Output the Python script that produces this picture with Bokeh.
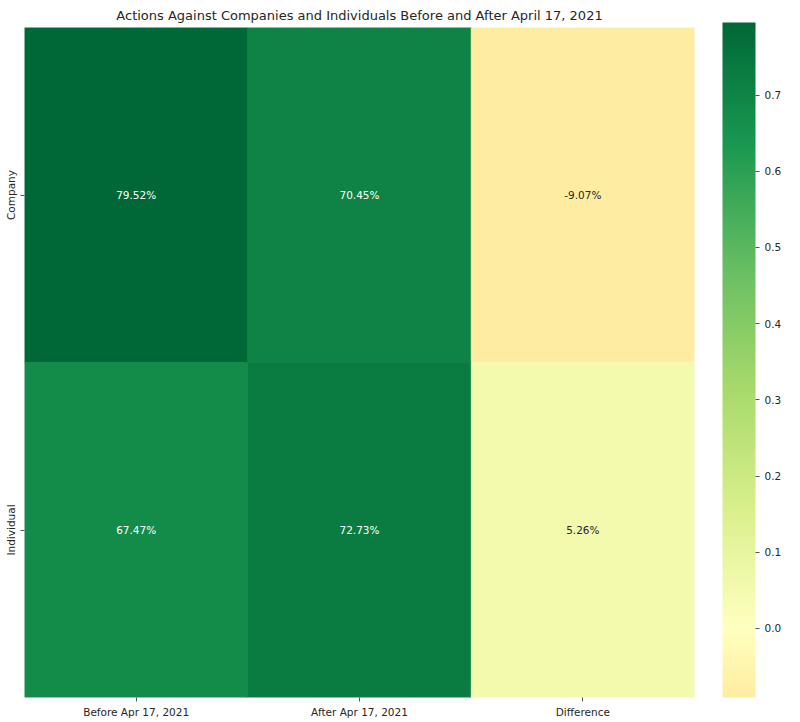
from bokeh.plotting import figure
from bokeh.models import (ColumnDataSource, LinearColorMapper, ColorBar,
                          FixedTicker, FactorRange, PrintfTickFormatter)
from bokeh.transform import transform
from bokeh.core.properties import value
from bokeh.embed import file_html
from bokeh.resources import INLINE

# Data
periods = ["Before Apr 17, 2021", "After Apr 17, 2021", "Difference"]
groups = ["Company", "Individual"]
company_vals = [0.7952, 0.7045, -0.0907]
individual_vals = [0.6747, 0.7273, 0.0526]
colorbar_ticks = [0.0, 0.1, 0.2, 0.3, 0.4, 0.5, 0.6, 0.7]

FONT = "DejaVu Sans"
TEXT_DARK = "#262626"

# Diverging red-yellow-green anchors (ColorBrewer RdYlGn, 11 classes)
RDYLGN = ["#a50026", "#d73027", "#f46d43", "#fdae61", "#fee08b", "#ffffbf",
          "#d9ef8b", "#a6d96a", "#66bd63", "#1a9850", "#006837"]


def hex_to_rgb(h):
    h = h.lstrip("#")
    return tuple(int(h[i:i + 2], 16) for i in (0, 2, 4))


def sample_cmap(t):
    t = min(max(t, 0.0), 1.0)
    pos = t * (len(RDYLGN) - 1)
    i = min(int(pos), len(RDYLGN) - 2)
    f = pos - i
    a, b = hex_to_rgb(RDYLGN[i]), hex_to_rgb(RDYLGN[i + 1])
    c = [round(a[k] + (b[k] - a[k]) * f) for k in range(3)]
    return (c[0], c[1], c[2])


def to_hex(c):
    return "#%02x%02x%02x" % c


all_vals = company_vals + individual_vals
vmin, vmax = min(all_vals), max(all_vals)
center = 0.0
vrange = max(vmax - center, center - vmin)

# Palette centred on zero, covering only the data range
n_colors = 256
palette = []
for k in range(n_colors):
    v = vmin + (vmax - vmin) * k / (n_colors - 1)
    t = 0.5 + (v - center) / (2 * vrange)
    palette.append(to_hex(sample_cmap(t)))

mapper = LinearColorMapper(palette=palette, low=vmin, high=vmax)


def cell_text_color(v):
    t = 0.5 + (v - center) / (2 * vrange)
    r, g, b = [x / 255 for x in sample_cmap(t)]
    def lin(x):
        return x / 12.92 if x <= 0.03928 else ((x + 0.055) / 1.055) ** 2.4
    lum = 0.2126 * lin(r) + 0.7152 * lin(g) + 0.0722 * lin(b)
    return TEXT_DARK if lum > 0.408 else "#ffffff"


xs, ys, vals, labels, tcolors = [], [], [], [], []
for grp, row in zip(groups, [company_vals, individual_vals]):
    for per, v in zip(periods, row):
        xs.append(per)
        ys.append(grp)
        vals.append(v)
        labels.append(f"{v * 100:.2f}%")
        tcolors.append(cell_text_color(v))

source = ColumnDataSource(dict(x=xs, y=ys, v=vals, label=labels, tc=tcolors))

p = figure(
    width=800, height=722,
    x_range=FactorRange(*periods),
    y_range=FactorRange(*reversed(groups)),
    output_backend="svg", toolbar_location=None,
    title="Actions Against Companies and Individuals Before and After April 17, 2021",
    min_border_left=24, min_border_right=106, min_border_top=22, min_border_bottom=25,
)

p.rect(x="x", y="y", width=1, height=1, source=source,
       fill_color=transform("v", mapper), line_color=transform("v", mapper),
       line_width=0.6)
p.text(x="x", y="y", text="label", source=source, text_color="tc",
       text_align="center", text_baseline="middle",
       text_font=value(FONT), text_font_size="10.5px")

p.title.align = "center"
p.title.text_font = FONT
p.title.text_font_style = "normal"
p.title.text_font_size = "13px"
p.title.text_color = TEXT_DARK

p.outline_line_color = None
p.grid.visible = False
p.background_fill_color = "white"
p.border_fill_color = "white"

for ax in (p.xaxis, p.yaxis):
    ax.axis_line_color = None
    ax.major_tick_line_color = "#555555"
    ax.major_tick_out = 4
    ax.major_tick_in = 0
    ax.minor_tick_line_color = None
    ax.major_label_text_font = FONT
    ax.major_label_text_font_size = "10.5px"
    ax.major_label_text_color = TEXT_DARK
    ax.major_label_standoff = 4
p.yaxis.major_label_orientation = "vertical"

cb = ColorBar(
    color_mapper=mapper, ticker=FixedTicker(ticks=colorbar_ticks),
    formatter=PrintfTickFormatter(format="%.1f"),
    width=33, height=675, padding=0, margin=0,
    location=(28, 0),
    bar_line_color=None, major_tick_out=4, major_tick_in=0,
    major_tick_line_color="#555555", minor_tick_line_color=None,
    label_standoff=5,
    major_label_text_font=FONT, major_label_text_font_size="10.5px",
    major_label_text_color=TEXT_DARK,
    background_fill_color=None, border_line_color=None,
)
p.add_layout(cb, "right")

open("out.html", "w").write(file_html(p, INLINE))
